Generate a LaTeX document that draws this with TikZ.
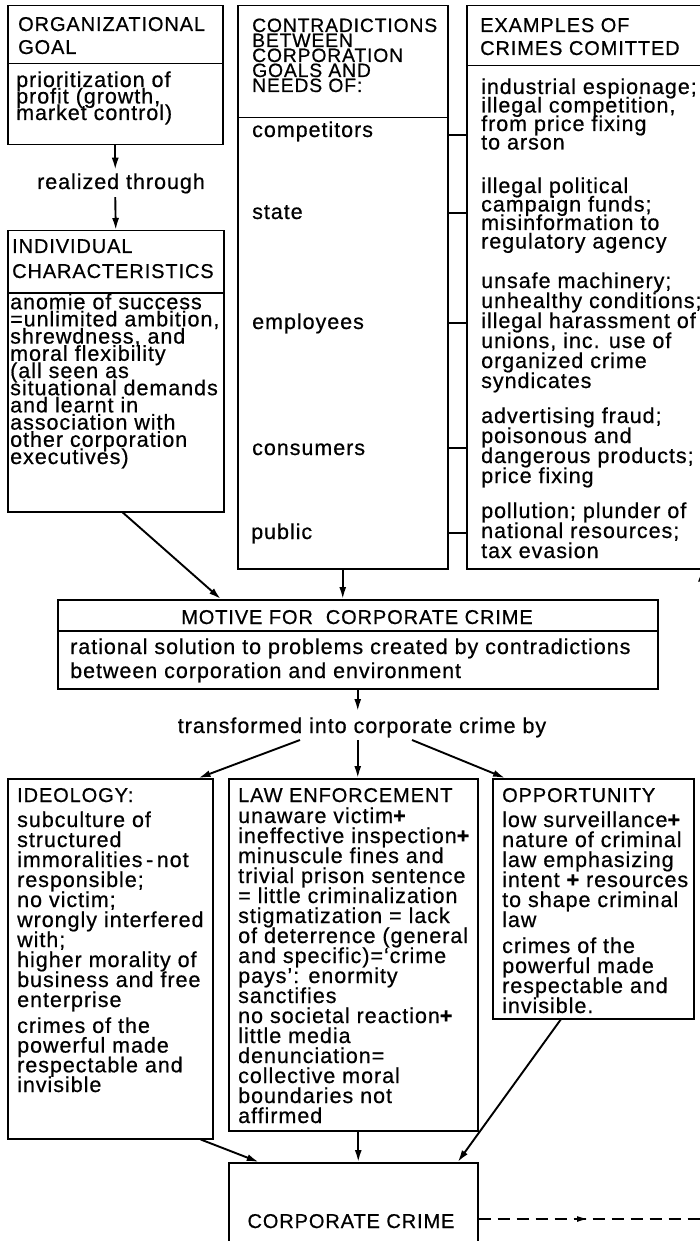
\documentclass[tikz,border=0pt]{standalone}
\usepackage{fontspec}
\setmainfont{Liberation Sans}[LetterSpace=4.5,FakeBold=0.6]
\usetikzlibrary{arrows.meta,calc,decorations.markings}

\begin{document}
\lineskiplimit=-\maxdimen
% Multi-line text nodes are placed by the baseline of their LAST line.
\begin{tikzpicture}[x=1pt,y=-1pt,
  frame/.style={draw,line width=1.5pt,inner sep=0pt,anchor=north west},
  txt/.style={inner sep=0pt,anchor=base west,align=left,
    font=\fontsize{21.5}{#1}\selectfont},
  txt/.default=20,
  head/.style={inner sep=0pt,anchor=base west,align=left,
    font=\fontsize{20}{#1}\selectfont},
  head/.default=24,
  arr/.style={line width=1.9pt,-{Latex[length=12pt,width=7pt]}},
  tick/.style={line width=1.9pt},
  fb/.style={line width=1.6pt,dash pattern=on 12pt off 7pt},
]
\useasboundingbox (0,0) rectangle (700,1241);
\fill[white] (0,0) rectangle (700,1241);

% ---------- top left column ----------
\node[frame,minimum width=215pt,minimum height=58pt] (goalhead) at (7,5) {};
\node[frame,minimum width=215pt,minimum height=81pt] (goalbody) at (7,63) {};
\node[head=23] (goalt) at (18,54) {ORGANIZATIONAL\\GOAL};
\node[txt=16.5] (goalb) at (16,120) {prioritization of\\profit (growth,\\market control)};

\node[inner sep=3.5pt,anchor=base,font=\fontsize{21.5}{20}\selectfont] (realized) at (121,189) {realized through};

\node[frame,minimum width=216pt,minimum height=62pt] (indhead) at (7,230) {};
\node[frame,minimum width=216pt,minimum height=219pt] (indbody) at (7,292) {};
\node[head=25] (indt) at (12,278) {INDIVIDUAL\\CHARACTERISTICS};
\node[txt=17.2] (indb) at (10,464) {anomie of success\\=unlimited ambition,\\shrewdness, and\\moral flexibility\\(all seen as\\situational demands\\and learnt in\\association with\\other corporation\\executives)};

\draw[arr] (goalbody.south) -- (goalbody.south |- realized.north);
\draw[arr] (goalbody.south |- realized.south) -- (indhead.north);

% ---------- contradictions ----------
\node[frame,minimum width=210pt,minimum height=112pt] (conhead) at (237,5) {};
\node[frame,minimum width=210pt,minimum height=451pt] (conbody) at (237,117) {};
\node[inner sep=0pt,anchor=base west,align=left,font=\fontsize{19.3}{15}\selectfont] (cont) at (252,92)
  {CONTRADICTIONS\\BETWEEN\\CORPORATION\\GOALS AND\\NEEDS OF:};
\node[txt] (ncomp) at (252,137) {competitors};
\node[txt] (nstate) at (252,219) {state};
\node[txt] (nempl) at (252,329) {employees};
\node[txt] (ncons) at (252,455) {consumers};
\node[txt] (npub) at (251,539) {public};

% ---------- examples ----------
\node[frame,minimum width=254pt,minimum height=60pt] (exhead) at (466,5) {};
\node[frame,minimum width=254pt,minimum height=503pt] (exbody) at (466,65) {};
\node[head=23] (ext) at (480,55) {EXAMPLES OF\\CRIMES COMITTED};
\node[txt=18.5] (ex1) at (481,149.5) {industrial espionage;\\illegal competition,\\from price fixing\\to arson};
\node[txt=18.5] (ex2) at (481,248.5) {illegal political\\campaign funds;\\misinformation to\\regulatory agency};
\node[txt] (ex3) at (481,388) {unsafe machinery;\\unhealthy conditions;\\illegal harassment of\\unions, inc. use of\\organized crime\\syndicates};
\node[txt] (ex4) at (481,483) {advertising fraud;\\poisonous and\\dangerous products;\\price fixing};
\node[txt] (ex5) at (481,558) {pollution; plunder of\\national resources;\\tax evasion};

\foreach \yy in {135,213,323,448,533}
  \draw[tick] (conbody.east |- 0,\yy) -- (exbody.west |- 0,\yy);

% ---------- motive ----------
\node[frame,minimum width=600pt,minimum height=31pt] (motivehead) at (57,599) {};
\node[frame,minimum width=600pt,minimum height=58pt] (motivebody) at (57,630) {};
\node[inner sep=0pt,anchor=base,font=\fontsize{20}{19}\selectfont] (motivet) at (357,624) {MOTIVE FOR\ \ CORPORATE CRIME};
\node[txt=24] (motiveb) at (70,678) {rational solution to problems created by contradictions\\between corporation and environment};

\draw[arr] ([xshift=7pt]indbody.south) -- ([xshift=-137pt]motivehead.north);
\draw[arr] (conbody.south) -- (conbody.south |- motivehead.north);

\node[inner sep=0pt,anchor=base,font=\fontsize{21.5}{20}\selectfont] (trans) at (362,733) {transformed into corporate crime by};
\coordinate (tr) at ($(trans.base)+(0,-22)$);
\coordinate (tb) at ($(trans.base)+(0,7)$);
\draw[arr] (motivebody.south) -- (motivebody.south |- tr);

% ---------- three factors ----------
\node[frame,minimum width=205pt,minimum height=360pt] (ideo) at (7,778) {};
\node[frame,minimum width=249pt,minimum height=352pt] (law) at (228,778) {};
\node[frame,minimum width=201pt,minimum height=240pt] (opp) at (492,778) {};

\draw[arr] ($(tb)+(-62,0)$) -- ([xshift=-15pt]ideo.north east);
\draw[arr] (motivebody.south |- tb) -- (motivebody.south |- law.north);
\draw[arr] ($(tb)+(50,0)$) -- ([xshift=13pt]opp.north west);

\node[head] (ideot) at (17,802) {IDEOLOGY:};
\node[txt] (ideob1) at (17,1007) {subculture of\\structured\\immoralities\,-\,not\\responsible;\\no victim;\\wrongly interfered\\with;\\higher morality of\\business and free\\enterprise};
\node[txt=19.7] (ideob2) at (17,1092) {crimes of the\\powerful made\\respectable and\\invisible};

\node[head] (lawt) at (238,802) {LAW ENFORCEMENT};
\node[txt] (lawb) at (238,1123) {unaware victim{\bfseries+}\\ineffective inspection{\bfseries+}\\minuscule fines and\\trivial prison sentence\\= little criminalization\\stigmatization = lack\\of deterrence (general\\and specific)=‘crime\\pays’: enormity\\sanctifies\\no societal reaction{\bfseries+}\\little media\\denunciation=\\collective moral\\boundaries not\\affirmed};

\node[head] (oppt) at (502,802) {OPPORTUNITY};
\node[txt] (oppb1) at (502,927) {low surveillance{\bfseries+}\\nature of criminal\\law emphasizing\\intent {\bfseries+} resources\\to shape criminal\\law};
\node[txt] (oppb2) at (502,1013) {crimes of the\\powerful made\\respectable and\\invisible.};

% ---------- corporate crime ----------
\node[frame,minimum width=249pt,minimum height=98pt] (corp) at (228,1162) {};
\node[inner sep=0pt,anchor=base,font=\fontsize{20}{19}\selectfont] (corpt) at (351,1228) {CORPORATE CRIME};

\draw[arr] ([xshift=90.5pt]ideo.south) -- ([xshift=-94.5pt]corp.north);
\draw[arr] ([xshift=5pt]law.south) -- ([xshift=5pt]corp.north);
\draw[arr] ([xshift=-32.5pt]opp.south) -- ([xshift=104.5pt]corp.north);

% feedback line running off to the right
\coordinate (fbk) at (702,1219);
\draw[fb,postaction={decorate},decoration={markings,
  mark=at position 0.49 with {\arrow{Latex[length=11pt,width=6pt]}}}]
  (corp.east |- fbk) -- (fbk);
\draw[fb,-{Latex[length=12pt,width=8pt]}] (fbk) -- (fbk |- exbody.south);
\end{tikzpicture}
\end{document}
